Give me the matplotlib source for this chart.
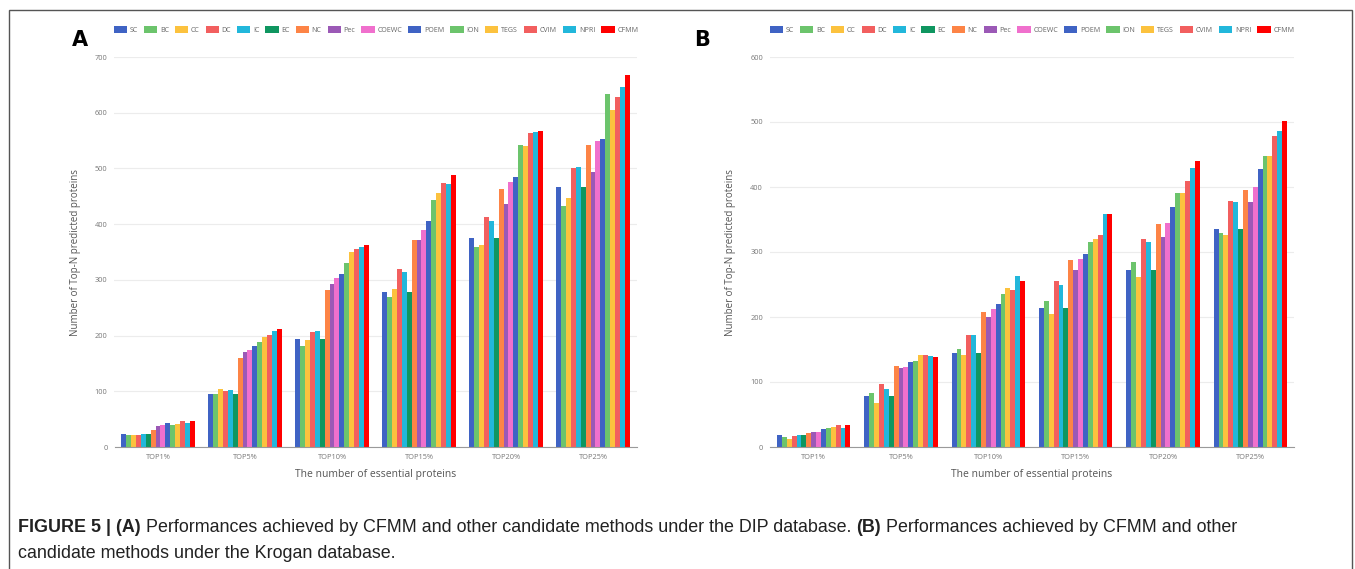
import numpy as np
import matplotlib
matplotlib.use('Agg')
import matplotlib.pyplot as plt
from matplotlib.patches import Rectangle
from matplotlib.text import Annotation

methods = ['SC', 'BC', 'CC', 'DC', 'IC', 'EC', 'NC', 'Pec', 'COEWC',
           'POEM', 'ION', 'TEGS', 'CVIM', 'NPRI', 'CFMM']
colors = ['#3f63c4', '#6cc46c', '#fcc23e', '#f25f5f', '#22b7db', '#0f9660',
          '#fd8446', '#9b59b6', '#f070cd', '#3f63c4', '#6cc46c', '#fcc23e',
          '#f25f5f', '#22b7db', '#ff0000']
groups = ['TOP1%', 'TOP5%', 'TOP10%', 'TOP15%', 'TOP20%', 'TOP25%']

# DIP database (panel A), one row per method
dip = [
    [23, 96, 194, 278, 376, 466],   # SC
    [22, 95, 181, 270, 359, 433],   # BC
    [22, 104, 192, 283, 363, 447],  # CC
    [21, 101, 206, 319, 412, 501],  # DC
    [23, 102, 209, 315, 405, 503],  # IC
    [23, 96, 194, 278, 376, 466],   # EC
    [31, 160, 281, 372, 463, 542],  # NC
    [38, 170, 292, 371, 436, 493],  # Pec
    [39, 174, 304, 389, 476, 550],  # COEWC
    [43, 181, 310, 406, 485, 552],  # POEM
    [40, 188, 330, 444, 542, 633],  # ION
    [41, 197, 350, 456, 540, 604],  # TEGS
    [46, 201, 356, 474, 563, 628],  # CVIM
    [43, 208, 359, 472, 566, 647],  # NPRI
    [46, 212, 363, 488, 568, 667],  # CFMM
]

# Krogan database (panel B)
krogan = [
    [19, 78, 144, 214, 272, 336],   # SC
    [16, 83, 151, 225, 285, 330],   # BC
    [12, 67, 141, 204, 261, 326],   # CC
    [17, 97, 172, 255, 320, 379],   # DC
    [19, 90, 172, 249, 316, 377],   # IC
    [19, 78, 144, 214, 272, 336],   # EC
    [22, 125, 207, 287, 343, 396],  # NC
    [23, 121, 200, 272, 323, 377],  # Pec
    [23, 123, 213, 290, 345, 400],  # COEWC
    [27, 131, 220, 297, 370, 427],  # POEM
    [30, 132, 236, 316, 391, 448],  # ION
    [31, 141, 245, 320, 391, 448],  # TEGS
    [34, 141, 241, 326, 409, 478],  # CVIM
    [30, 140, 263, 358, 430, 486],  # NPRI
    [34, 138, 256, 358, 440, 501],  # CFMM
]

caption_1 = [('FIGURE 5 | (A)', 'bold'),
             (' Performances achieved by CFMM and other candidate methods '
              'under the DIP database. ', 'normal'),
             ('(B)', 'bold'),
             (' Performances achieved by CFMM and other', 'normal')]
caption_2 = 'candidate methods under the Krogan database.'

W, H = 1355, 569
fig = plt.figure(figsize=(W / 100, H / 100), dpi=100)

# frame around the figure (bottom edge is cut off in the original)
fig.patches.append(Rectangle((9 / W, -0.05), (1352 - 9) / W, 1.05 - 10 / H,
                             transform=fig.transFigure, fill=False,
                             edgecolor='#555555', lw=1))

ui_font = 'Open Sans'


def draw_panel(rect, data, ymax, letter, letter_x, legend_cx):
    ax = fig.add_axes(rect)
    x = np.arange(len(groups))
    n = len(methods)
    w = 0.84 / n
    for i, (m, c) in enumerate(zip(methods, colors)):
        ax.bar(x + (i - (n - 1) / 2) * w, data[i], width=w, color=c,
               label=m, linewidth=0)
    ax.set_xlim(-0.5, len(groups) - 0.5)
    ax.set_ylim(0, ymax)
    ax.set_yticks(np.arange(0, ymax + 1, 100))
    ax.set_xticks(x)
    ax.set_xticklabels(groups)
    ax.tick_params(axis='both', length=0, labelsize=5.3, labelcolor='#777777',
                   pad=5)
    for lab in ax.get_xticklabels() + ax.get_yticklabels():
        lab.set_family(ui_font)
    ax.grid(axis='y', color='#ececec', lw=0.8)
    ax.set_axisbelow(True)
    for s in ['top', 'right', 'left']:
        ax.spines[s].set_visible(False)
    ax.spines['bottom'].set_color('#9a9a9a')
    ax.set_xlabel('The number of essential proteins', fontsize=7.5,
                  color='#555555', family=ui_font, labelpad=6)
    ax.set_ylabel('Number of Top-N predicted proteins', fontsize=7,
                  color='#555555', family=ui_font, labelpad=10)
    fig.text(letter_x / W, 1 - 40 / H, letter, fontsize=15, weight='bold',
             ha='center', va='center', family='DejaVu Sans')
    fig.legend(*ax.get_legend_handles_labels(), loc='center',
               bbox_to_anchor=(legend_cx / W, 1 - 30 / H), ncol=n,
               frameon=False, handlelength=1.9, handleheight=1.0,
               handletextpad=0.35, columnspacing=0.85,
               labelcolor='#666666', prop={'family': ui_font, 'size': 5.1})
    return ax


ax_a = draw_panel([114.5 / W, 1 - 447 / H, 522 / W, 390 / H], dip, 700,
                  'A', 80, 376)
ax_b = draw_panel([770 / W, 1 - 447 / H, 524 / W, 390 / H], krogan, 600,
                  'B', 702, 1032)

# caption with bold parts, each piece placed right after the previous one
cap = dict(fontsize=12.9, family='Liberation Sans', color='#222222')
prev = None
for txt, wt in caption_1:
    if prev is None:
        prev = fig.text(18 / W, 1 - 536 / H, txt, weight=wt, va='bottom',
                        **cap)
    else:
        prev = fig.add_artist(Annotation(txt, xy=(1, 0), xycoords=prev,
                                         va='bottom', weight=wt, **cap))
fig.text(18 / W, 1 - 562 / H, caption_2, va='bottom', **cap)

plt.savefig('out.png', dpi=100)
